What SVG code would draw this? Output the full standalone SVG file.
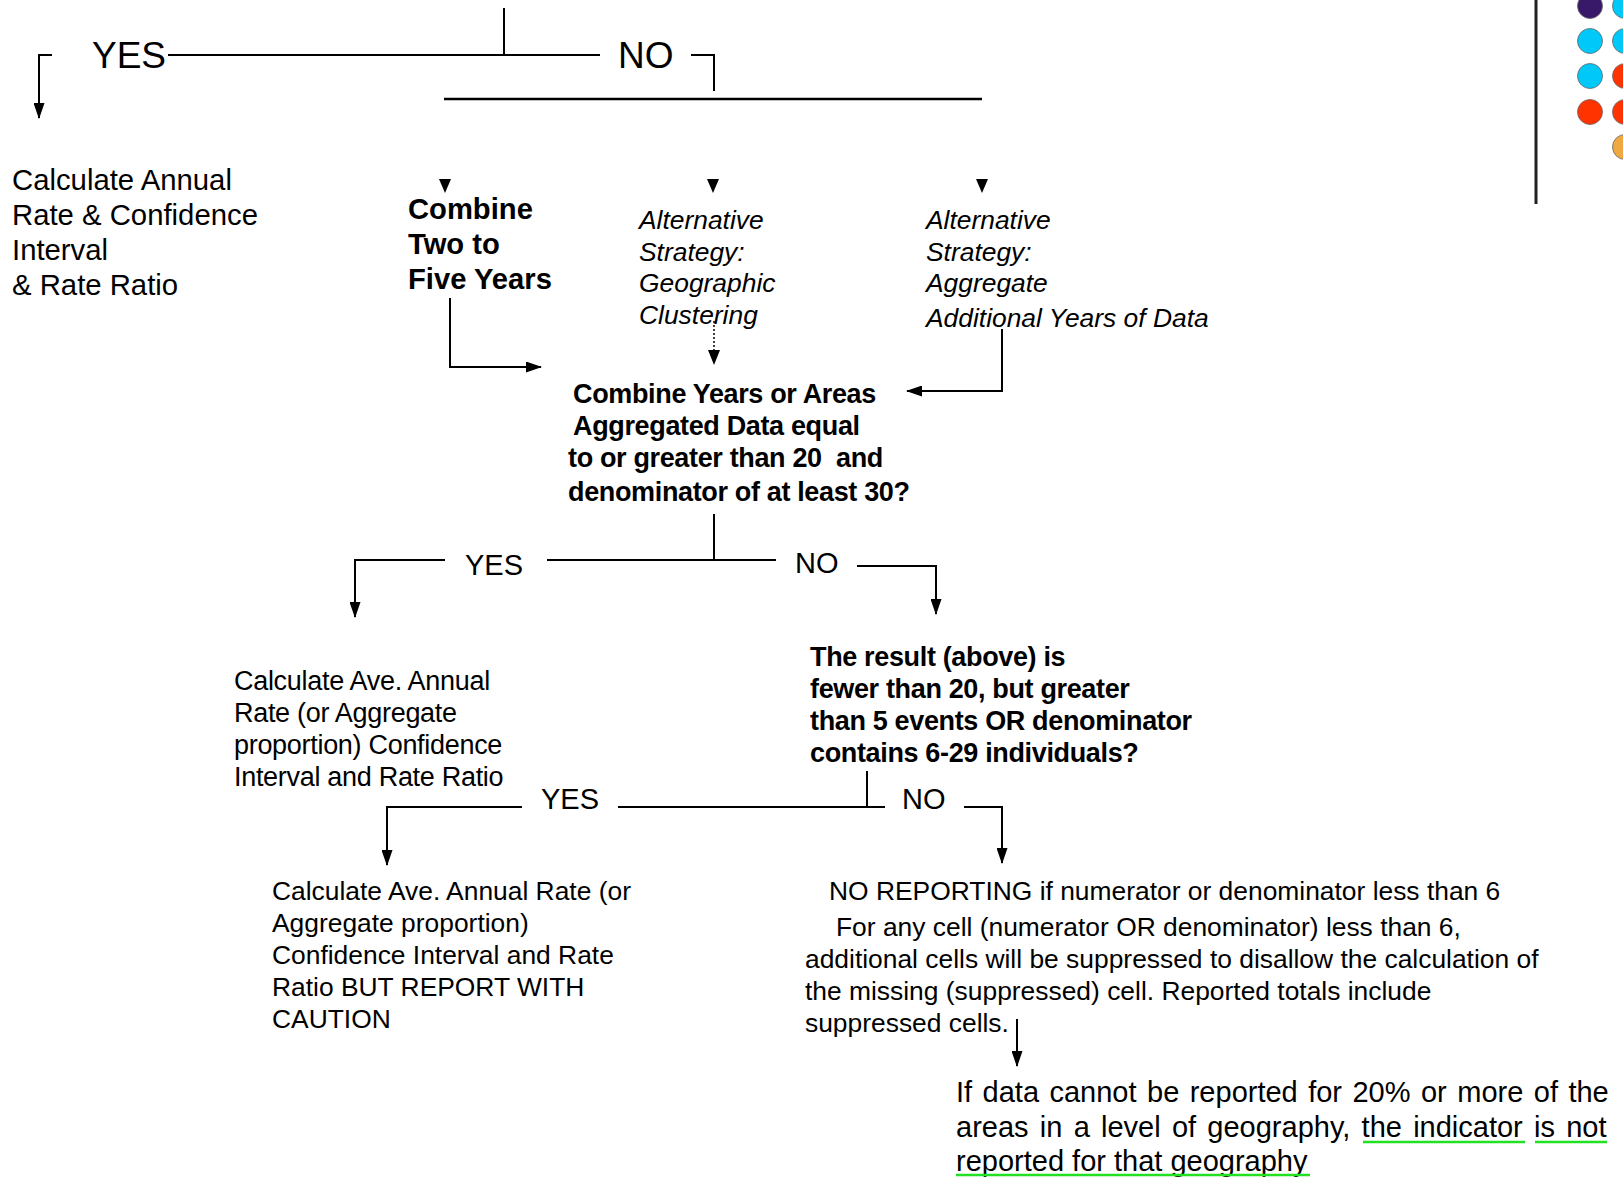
<svg xmlns="http://www.w3.org/2000/svg" width="1623" height="1177" viewBox="0 0 1623 1177">
<style>
text{font-family:"Liberation Sans",Arial,sans-serif;fill:#000}
.big{font-size:37px}
.yn{font-size:29px}
.body{font-size:29.3px}
.b29{font-size:29.2px;font-weight:bold}
.ital{font-size:26.4px;font-style:italic}
.q{font-size:27px;font-weight:bold;letter-spacing:-0.35px;white-space:pre}
.r27{font-size:27px;letter-spacing:-0.3px}
.r26{font-size:26.4px}
.j29{font-size:29px}
.ln{stroke:#000;stroke-width:2;fill:none}
.ar{stroke:#000;stroke-width:2;fill:none;marker-end:url(#ah)}
.head{fill:#000}
.dot{stroke:#666;stroke-width:0.8}
.ul{stroke:#22e022;stroke-width:2.5}
</style>
<defs>
<marker id="ah" viewBox="0 0 16 11" refX="15" refY="5.5" markerWidth="16" markerHeight="11" markerUnits="userSpaceOnUse" orient="auto">
<path d="M0,0 L16,5.5 L0,11 z" fill="#000"/>
</marker>
</defs>

<g id="connectors">
<path class="ln" d="M504,8 V55"/>
<path class="ln" d="M168,55 H600"/>
<path class="ln" d="M691,55 H714 V91"/>
<path class="ln" d="M444,99 H982" style="stroke-width:2.5"/>
<path class="ar" d="M52,55 H39 V118"/>
<polygon class="head" points="439,179 451,179 445,193"/>
<polygon class="head" points="707,179 719,179 713,193"/>
<polygon class="head" points="976,179 988,179 982,193"/>
<path class="ar" d="M450,298 V367 H541"/>
<path class="ln" d="M714,321 V352" style="stroke-dasharray:2 2;stroke-width:1.5"/>
<polygon class="head" points="708,350 720,350 714,365"/>
<path class="ar" d="M1002,329 V391 H907"/>
<path class="ln" d="M714,514 V560"/>
<path class="ln" d="M547,560 H776"/>
<path class="ar" d="M445,560 H355 V617"/>
<path class="ar" d="M857,566 H936 V614"/>
<path class="ln" d="M867,771 V807"/>
<path class="ln" d="M618,807 H885"/>
<path class="ar" d="M522,807 H387 V865"/>
<path class="ar" d="M964,807 H1002 V863"/>
<path class="ar" d="M1017,1019 V1066"/>
<path class="ln" d="M1536,0 V204" style="stroke:#222;stroke-width:3"/>
</g>

<g id="decision-top-labels">
<text class="big" x="92" y="68">YES</text>
<text class="big" x="618" y="68">NO</text>
</g>

<g id="node-calc-annual">
<text class="body" x="12" y="190">Calculate Annual</text>
<text class="body" x="12" y="225">Rate &amp; Confidence</text>
<text class="body" x="12" y="260">Interval</text>
<text class="body" x="12" y="295">&amp; Rate Ratio</text>
</g>

<g id="node-combine">
<text class="b29" x="408" y="219">Combine</text>
<text class="b29" x="408" y="254">Two to</text>
<text class="b29" x="408" y="289">Five Years</text>
</g>

<g id="node-alt-geo">
<text class="ital" x="639" y="229">Alternative</text>
<text class="ital" x="639" y="261">Strategy:</text>
<text class="ital" x="639" y="292">Geographic</text>
<text class="ital" x="639" y="324">Clustering</text>
</g>

<g id="node-alt-agg">
<text class="ital" x="926" y="229">Alternative</text>
<text class="ital" x="926" y="261">Strategy:</text>
<text class="ital" x="926" y="292">Aggregate</text>
<text class="ital" x="926" y="327">Additional Years of Data</text>
</g>

<g id="node-question-1">
<text class="q" x="573" y="403">Combine Years or Areas</text>
<text class="q" x="573" y="435">Aggregated Data equal</text>
<text class="q" x="568" y="467">to or greater than 20  and</text>
<text class="q" x="568" y="501">denominator of at least 30?</text>
</g>

<g id="decision-1-labels">
<text class="yn" x="465" y="575">YES</text>
<text class="yn" x="795" y="573">NO</text>
</g>

<g id="node-calc-ave">
<text class="r27" x="234" y="690">Calculate Ave. Annual</text>
<text class="r27" x="234" y="722">Rate (or Aggregate</text>
<text class="r27" x="234" y="754">proportion) Confidence</text>
<text class="r27" x="234" y="786">Interval and Rate Ratio</text>
</g>

<g id="node-question-2">
<text class="q" x="810" y="666">The result (above) is</text>
<text class="q" x="810" y="698">fewer than 20, but greater</text>
<text class="q" x="810" y="730">than 5 events OR denominator</text>
<text class="q" x="810" y="762">contains 6-29 individuals?</text>
</g>

<g id="decision-2-labels">
<text class="yn" x="541" y="809">YES</text>
<text class="yn" x="902" y="809">NO</text>
</g>

<g id="node-caution">
<text class="r26" x="272" y="900">Calculate Ave. Annual Rate (or</text>
<text class="r26" x="272" y="932">Aggregate proportion)</text>
<text class="r26" x="272" y="964">Confidence Interval and Rate</text>
<text class="r26" x="272" y="996">Ratio BUT REPORT WITH</text>
<text class="r26" x="272" y="1028">CAUTION</text>
</g>

<g id="node-no-reporting">
<text class="r26" x="829" y="900">NO REPORTING if numerator or denominator less than 6</text>
<text class="r26" x="836" y="936">For any cell (numerator OR denominator) less than 6,</text>
<text class="r26" x="805" y="968">additional cells will be suppressed to disallow the calculation of</text>
<text class="r26" x="805" y="1000">the missing (suppressed) cell. Reported totals include</text>
<text class="r26" x="805" y="1032">suppressed cells.</text>
</g>

<g id="node-geography">
<text class="j29" x="956" y="1102" word-spacing="2.4">If data cannot be reported for 20% or more of the</text>
<text class="j29" x="956" y="1137" word-spacing="3.2">areas in a level of geography, the indicator is not</text>
<text class="j29" x="956" y="1171">reported for that geography</text>
<line class="ul" x1="1363" y1="1142" x2="1525" y2="1142"/>
<line class="ul" x1="1535" y1="1142" x2="1607" y2="1142"/>
<line class="ul" x1="956" y1="1175" x2="1310" y2="1175"/>
</g>

<g id="decor-dots">
<circle class="dot" cx="1590" cy="6" r="12.5" fill="#381868"/>
<circle class="dot" cx="1625" cy="6" r="12.5" fill="#00c8f8"/>
<circle class="dot" cx="1590" cy="41" r="12.5" fill="#00c8f8"/>
<circle class="dot" cx="1625" cy="41" r="12.5" fill="#00c8f8"/>
<circle class="dot" cx="1590" cy="76" r="12.5" fill="#00c8f8"/>
<circle class="dot" cx="1625" cy="76" r="12.5" fill="#ff3300"/>
<circle class="dot" cx="1590" cy="112" r="12.5" fill="#ff3300"/>
<circle class="dot" cx="1625" cy="112" r="12.5" fill="#ff3300"/>
<circle class="dot" cx="1625" cy="147" r="12.5" fill="#f0a840"/>
</g>
</svg>
